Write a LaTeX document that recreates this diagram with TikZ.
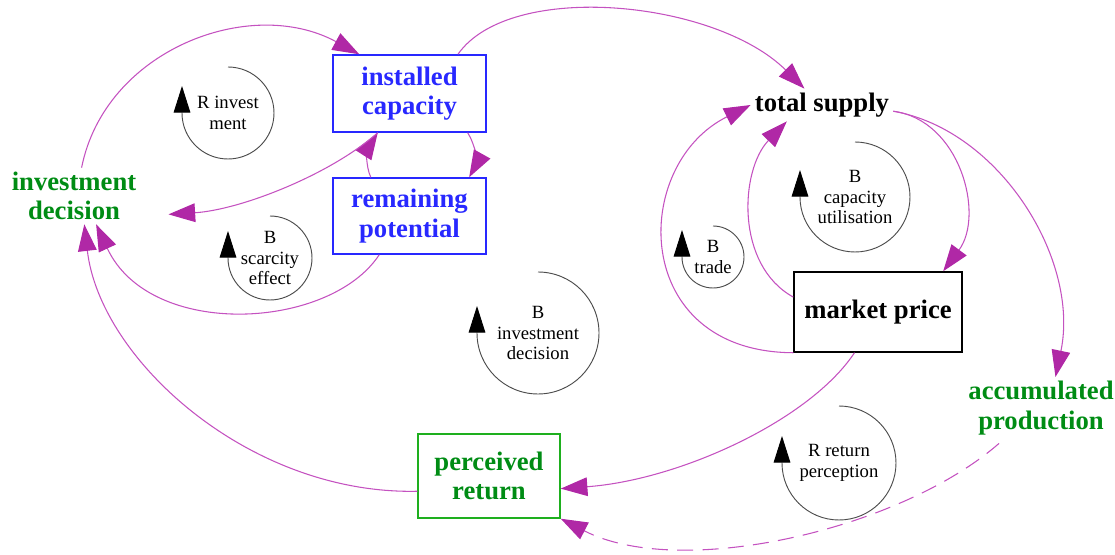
\documentclass[tikz,border=0pt]{standalone}
\usepackage{fontspec}
\setmainfont{Liberation Serif}
\usetikzlibrary{arrows.meta}
\definecolor{linkcol}{RGB}{196,82,192}
\definecolor{headcol}{RGB}{176,40,166}
\definecolor{capblue}{RGB}{40,40,255}
\definecolor{decgreen}{RGB}{0,140,20}
\definecolor{boxgreen}{RGB}{30,175,30}

\begin{document}
\begin{tikzpicture}[
    x=0.75pt, y=-0.75pt,
    stock/.style={draw, line width=1.1pt, align=center, inner sep=0pt, font=\bfseries\fontsize{20}{22}\selectfont},
    varname/.style={align=center, inner sep=3pt, font=\bfseries\fontsize{20}{22}\selectfont},
    looptext/.style={align=center, inner sep=0pt, font=\fontsize{14}{15.5}\selectfont},
    loopline/.style={draw=black!70, line width=0.7pt, -{Triangle[length=20pt, width=12.5pt, color=black]}},
    link/.style={draw=linkcol, line width=0.8pt, -{Triangle[length=20pt, width=14pt, color=headcol]}},
]
    \useasboundingbox (0,0) rectangle (1115,555);

    \node[stock, draw=capblue, text=capblue, minimum width=114.75pt, minimum height=57.75pt] (cap) at (409.5,93.5) {installed\\capacity};
    \node[stock, draw=capblue, text=capblue, minimum width=114.75pt, minimum height=57pt] (pot) at (409.5,216) {remaining\\potential};
    \node[stock, minimum width=126pt, minimum height=60pt] (price) at (878,312) {market price};
    \node[stock, draw=boxgreen, text=decgreen, minimum width=106.5pt, minimum height=63pt] (ret) at (489,476) {perceived\\return};
    \node[varname, text=decgreen, inner xsep=24pt] (inv) at (74,196) {investment\\decision};
    \node[varname] (supply) at (822,105) {total supply};
    \node[varname, text=decgreen] (acc) at (1041,408) {accumulated\\production};

    \node[looptext] (rinv) at (228,113) {R invest\\ment};
    \node[looptext] (bscar) at (270,258) {B\\scarcity\\effect};
    \node[looptext] (binv) at (538,333) {B\\investment\\decision};
    \node[looptext] (btrade) at (713,257) {B\\trade};
    \node[looptext] (bcap) at (855,197) {B\\capacity\\utilisation};
    \node[looptext] (rret) at (839,463) {R return\\perception};

    \foreach \n/\r in {rinv/46, bscar/42, binv/61, btrade/31, bcap/55, rret/57} {
        \draw[loopline] (\n.center) ++(0,-\r) arc[start angle=-90, end angle=180, radius=\r] -- ++(0,-27);
    }

    \draw[link] (inv.75) .. controls (105,50) and (250,-5) .. (cap.142);
    \draw[link] (cap.39) .. controls (510,-20) and (715,0) .. (supply.137);
    \draw[link] (pot.135) .. controls (365,165) and (368,148) .. (cap.231);
    \draw[link] (cap.326) .. controls (476,145) and (476,165) .. (pot.33);
    \draw[link] (cap.231) .. controls (330,175) and (240,210) .. (inv.349);
    \draw[link] (pot.232) .. controls (330,330) and (150,340) .. (inv.308);
    \draw[link] (ret.192) .. controls (250,495) and (100,360) .. (inv.290);
    \draw[link] (price.south west) .. controls (630,352) and (630,165) .. (supply.west);
    \draw[link] (price.170) .. controls (735,265) and (740,170) .. (supply.205);
    \draw[link] (supply.355) .. controls (960,120) and (985,215) .. (price.32);
    \draw[link] (supply.355) .. controls (1000,130) and (1080,260) .. (acc.65);
    \draw[link] (price.240) .. controls (810,420) and (680,480) .. (ret.350);
    \draw[link, dash pattern=on 12pt off 7pt, shorten <=5pt] (acc.220) .. controls (900,530) and (680,580) .. (ret.south east);

\end{tikzpicture}
\end{document}
